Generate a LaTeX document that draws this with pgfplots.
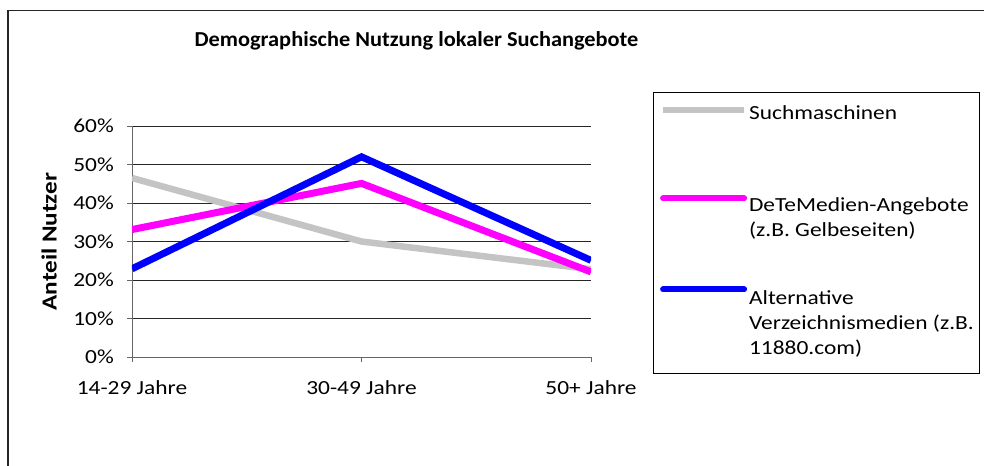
\documentclass[border=0pt]{standalone}
\usepackage{pgfplots}
\pgfplotsset{compat=1.18}
\usepackage{fontspec}
\setmainfont{Carlito}[FakeStretch=1.17]
\newfontfamily\titlefont{Carlito}[FakeStretch=1.05]
\definecolor{sgrey}{RGB}{196,196,196}
\definecolor{smag}{RGB}{255,0,255}
\definecolor{sblue}{RGB}{0,0,255}
\newcommand{\lent}[1]{\parbox[t]{223bp}{#1}}
\begin{document}
\begin{tikzpicture}
\path[use as bounding box] (-132bp,-109bp) rectangle (852bp,357bp);
\draw[line width=1.2bp, black!85] (-124bp,-109bp) -- (-124bp,346.5bp) -- (852bp,346.5bp);
\begin{axis}[
  anchor=south west,
  scale only axis, width=459bp, height=231bp,
  xmin=0, xmax=2, ymin=0, ymax=60,
  axis x line*=bottom, axis y line*=left,
  axis line style={black!60, line width=0.8bp},
  xtick={0,1,2}, xticklabels={14-29 Jahre,30-49 Jahre,50+ Jahre},
  ytick={0,10,...,60},
  yticklabel={\pgfmathprintnumber{\tick}\%},
  /pgf/number format/assume math mode=true,
  tick align=outside, major tick length=5bp,
  tick style={black!60, line width=0.8bp},
  ymajorgrids, major grid style={black!85, line width=0.8bp},
  ticklabel style={font=\fontsize{20bp}{24bp}\selectfont, inner sep=0pt},
  yticklabel style={anchor=east, xshift=-13bp},
  xticklabel style={anchor=north, yshift=-18.5bp},
  title={Demographische Nutzung lokaler Suchangebote},
  title style={at={(axis description cs:0.6198,1.318)}, anchor=base, yshift=0pt, font=\titlefont\bfseries\fontsize{21.3bp}{26bp}\selectfont, inner sep=0pt},
  ylabel={Anteil Nutzer},
  ylabel style={at={(axis description cs:-0.1804,0.499)}, anchor=center, font=\bfseries\fontsize{21.5bp}{26bp}\selectfont, inner sep=0pt},
  legend cell align=left,
  legend style={at={(axis description cs:1.1344,1.1485)}, anchor=north west, draw=black, line width=0.8bp, inner xsep=7bp, inner ysep=0pt, row sep=-4.1bp, column sep=2bp, font=\fontsize{20bp}{25bp}\selectfont, nodes={inner sep=0pt, text height=27.3bp, text depth=69.3bp}, cells={anchor=base west}},
]
\addplot[sgrey, line width=6.5bp, legend image code/.code={\draw[sgrey,line width=6bp] (0bp,9.5bp) -- (81bp,9.5bp);}] coordinates {(0,46.5) (1,30) (2,22.8)};
\addlegendentry{\lent{Suchmaschinen}}
\addplot[smag, line width=7bp, legend image code/.code={\draw[smag,line width=6bp,line cap=round] (0bp,13.5bp) -- (81bp,13.5bp);}] coordinates {(0,33.1) (1,45.1) (2,22.1)};
\addlegendentry{\lent{\mbox{DeTeMedien-Angebote}\newline\mbox{(z.B. Gelbeseiten)}}}
\addplot[sblue, line width=7bp, legend image code/.code={\draw[sblue,line width=6bp,line cap=round] (0bp,15bp) -- (81bp,15bp);}] coordinates {(0,22.9) (1,52) (2,25.1)};
\addlegendentry{\lent{\mbox{Alternative}\newline\mbox{Verzeichnismedien (z.B.}\newline\mbox{11880.com)}}}
\end{axis}
\end{tikzpicture}
\end{document}
